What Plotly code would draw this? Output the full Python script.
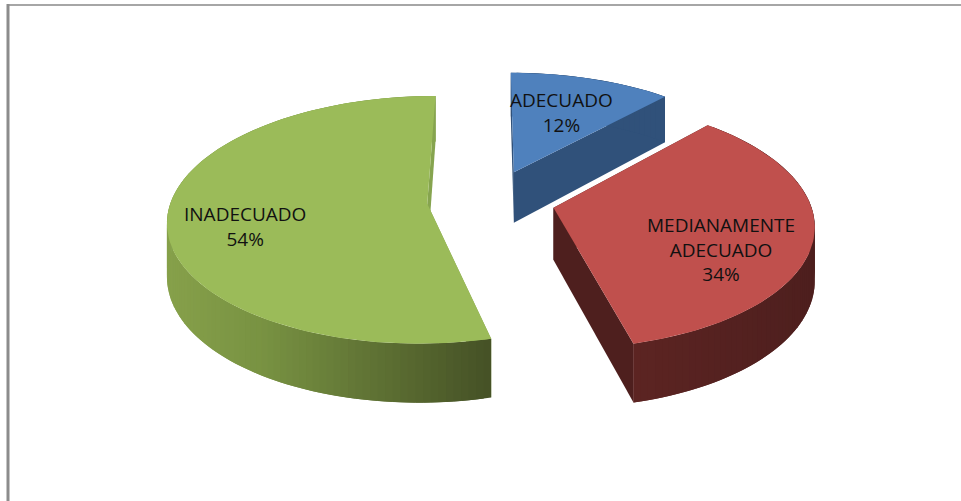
import math
import plotly.graph_objects as go

categories = ["ADECUADO", "MEDIANAMENTE<br>ADECUADO", "INADECUADO"]
values = [12, 34, 54]
top_colors = ["#4f81bd", "#c0504d", "#9bbb59"]

CX, CY, R, TILT, K, DEPTH, PULL, START = 491, 200, 256, 0.48, 0.13, 52, 0.25, 0.0


def project(X, Y, z=0.0):
    s = 1 - K * Y
    return CX + R * X * s, CY - R * TILT * Y * s + DEPTH * z * s


def mix(a, b, t):
    return "rgb(%d,%d,%d)" % tuple(round(a[i] + (b[i] - a[i]) * t) for i in range(3))


def wall_color(idx, x, back):
    if idx == 0:
        return "#30517a"
    if idx == 1:
        return mix((92, 36, 34), (78, 31, 30), min(1, max(0, (x - 640) / 170)))
    if back:
        return "#86a44f"
    t = min(1, max(0, (x - 170) / 320))
    if t < 0.3:
        return mix((134, 160, 74), (120, 146, 66), t / 0.3)
    return mix((120, 146, 66), (70, 82, 38), (t - 0.3) / 0.7)


fig = go.Figure()


def poly(pts, color):
    fig.add_trace(go.Scatter(
        x=[p[0] for p in pts], y=[p[1] for p in pts], mode="lines", fill="toself",
        fillcolor=color, line=dict(color=color, width=0), hoverinfo="skip", showlegend=False))


total = sum(values)
cut_colors = ["#30517a", "#4e1f1e", "#86a44f"]
angle = START
for idx, v in enumerate(values):
    sweep = 360 * v / total
    a0, a1 = angle, angle + sweep
    angle = a1
    mid = math.radians((a0 + a1) / 2)
    ox, oy = PULL * math.sin(mid), PULL * math.cos(mid)
    n = max(8, int(sweep / 1.5))
    ang = [math.radians(a0 + (a1 - a0) * i / n) for i in range(n + 1)]
    rim = [(ox + math.sin(a), oy + math.cos(a)) for a in ang]
    # cut faces
    for edge in (rim[0], rim[-1]):
        poly([project(ox, oy), project(*edge), project(*edge, 1), project(ox, oy, 1)], cut_colors[idx])
    # outer wall: each strip runs under the next so that no seam shows
    for i in range(n):
        p, q = rim[i], rim[min(i + 2, n)]
        back = math.cos(ang[i]) > 0
        poly([project(*p), project(*q), project(*q, 1), project(*p, 1)],
             wall_color(idx, project(*p)[0], back))
    # top face
    poly([project(ox, oy)] + [project(*p) for p in rim], top_colors[idx])

labels_at = [(561, 112), (721, 249), (245, 226)]
annotations = [
    dict(x=x, y=y, xref="x", yref="y", showarrow=False, align="center",
         text=f"{c}<br>{v}%", font=dict(family="Open Sans", size=19, color="#111111"))
    for (x, y), c, v in zip(labels_at, categories, values)
]

shapes = [
    dict(type="line", xref="x", yref="y", x0=7, x1=961, y0=5, y1=5, line=dict(color="#a6a6a6", width=2)),
    dict(type="line", xref="x", yref="y", x0=8, x1=8, y0=4, y1=501, line=dict(color="#8c8c8c", width=3)),
]

fig.update_layout(
    width=961, height=501, margin=dict(l=0, r=0, t=0, b=0),
    paper_bgcolor="white", plot_bgcolor="white", showlegend=False,
    xaxis=dict(range=[0, 961], visible=False, fixedrange=True),
    yaxis=dict(range=[501, 0], visible=False, fixedrange=True),
    annotations=annotations, shapes=shapes,
)
fig.write_html("out.html", config={"displayModeBar": False},
               post_script="document.body.style.margin='0';document.body.style.overflow='hidden';")
